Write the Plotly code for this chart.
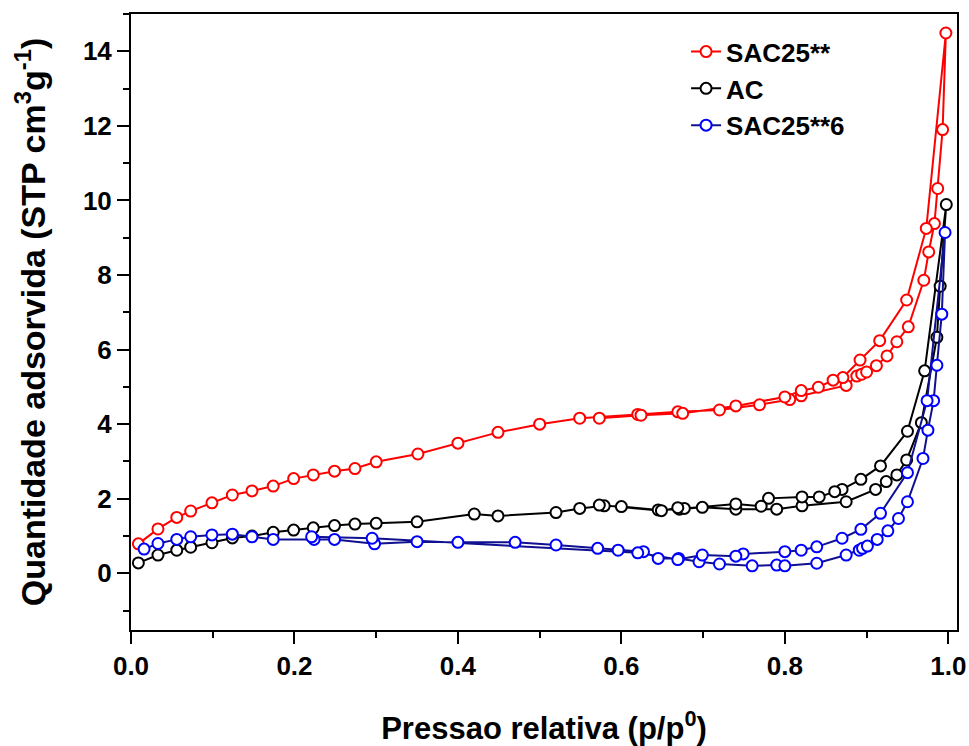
import plotly.graph_objects as go

# ---------------- data (relative pressure p/p0, adsorbed quantity) ----------------
# SAC25** (red)
sac25_ads_x = [0.009, 0.033, 0.056, 0.073, 0.099, 0.124, 0.148, 0.174, 0.199, 0.223, 0.249,
               0.274, 0.300, 0.351, 0.400, 0.449, 0.500, 0.549, 0.620, 0.669, 0.720, 0.769,
               0.806, 0.820, 0.875, 0.888, 0.894, 0.900, 0.912, 0.925, 0.937, 0.951, 0.970,
               0.976, 0.983, 0.987, 0.993, 0.997]
sac25_ads_y = [0.79, 1.19, 1.50, 1.67, 1.89, 2.10, 2.21, 2.34, 2.54, 2.64, 2.74,
               2.81, 2.99, 3.20, 3.49, 3.78, 4.00, 4.16, 4.26, 4.33, 4.38, 4.52,
               4.66, 4.76, 5.04, 5.29, 5.34, 5.40, 5.57, 5.83, 6.21, 6.61, 7.86,
               8.62, 9.38, 10.32, 11.90, 14.49]
sac25_des_x = [0.973, 0.949, 0.916, 0.892, 0.871, 0.859, 0.841, 0.820, 0.800, 0.740, 0.675,
               0.624, 0.573]
sac25_des_y = [9.25, 7.33, 6.24, 5.72, 5.25, 5.18, 4.99, 4.90, 4.73, 4.49, 4.29,
               4.24, 4.16]

# AC (black)
ac_ads_x = [0.009, 0.033, 0.056, 0.073, 0.099, 0.124, 0.148, 0.174, 0.199, 0.223, 0.249,
            0.274, 0.300, 0.350, 0.420, 0.449, 0.520, 0.549, 0.579, 0.600, 0.645, 0.671,
            0.699, 0.740, 0.790, 0.821, 0.875, 0.911, 0.924, 0.937, 0.949, 0.967, 0.986,
            0.990, 0.9975]
ac_ads_y = [0.28, 0.49, 0.62, 0.70, 0.82, 0.95, 1.00, 1.10, 1.16, 1.22, 1.28,
            1.32, 1.34, 1.38, 1.59, 1.54, 1.63, 1.74, 1.81, 1.79, 1.70, 1.72,
            1.77, 1.72, 1.72, 1.81, 1.92, 2.25, 2.46, 2.64, 3.04, 4.04, 6.33,
            7.70, 9.89]
ac_des_x = [0.971, 0.950, 0.917, 0.893, 0.870, 0.861, 0.842, 0.821, 0.780, 0.771, 0.740,
            0.677, 0.669, 0.649, 0.573]
ac_des_y = [5.43, 3.81, 2.88, 2.52, 2.25, 2.19, 2.05, 2.05, 2.01, 1.80, 1.86,
            1.74, 1.76, 1.68, 1.83]

# SAC25**6 (blue)
sac6_ads_x = [0.016, 0.033, 0.056, 0.073, 0.099, 0.124, 0.148, 0.174, 0.224, 0.249, 0.298,
              0.350, 0.400, 0.470, 0.520, 0.571, 0.596, 0.627, 0.645, 0.670, 0.695, 0.720,
              0.760, 0.790, 0.800, 0.839, 0.875, 0.891, 0.895, 0.901, 0.913, 0.926, 0.939,
              0.950, 0.969, 0.975, 0.982, 0.986, 0.992, 0.996]
sac6_ads_y = [0.65, 0.80, 0.91, 0.98, 1.03, 1.05, 0.98, 0.91, 0.91, 0.91, 0.79,
              0.85, 0.83, 0.83, 0.76, 0.67, 0.62, 0.58, 0.40, 0.40, 0.31, 0.25,
              0.20, 0.22, 0.20, 0.27, 0.49, 0.62, 0.67, 0.73, 0.91, 1.14, 1.47,
              1.92, 3.08, 3.84, 4.63, 5.58, 6.95, 9.14]
sac6_des_x = [0.974, 0.950, 0.917, 0.893, 0.870, 0.839, 0.820, 0.800, 0.749, 0.740, 0.699,
              0.669, 0.620, 0.295, 0.221]
sac6_des_y = [4.63, 2.70, 1.61, 1.18, 0.94, 0.71, 0.62, 0.58, 0.52, 0.46, 0.49,
              0.37, 0.55, 0.94, 0.98]

series_names = ["SAC25**", "AC", "SAC25**6"]
line_colors = ["#ff0000", "#000000", "#101090"]
marker_colors = ["#ff0000", "#000000", "#0000ff"]

x_ticks = [0.0, 0.2, 0.4, 0.6, 0.8, 1.0]
x_tick_labels = ["0.0", "0.2", "0.4", "0.6", "0.8", "1.0"]
y_ticks = [0, 2, 4, 6, 8, 10, 12, 14]

FONT = "Liberation Sans, Arial, Helvetica, sans-serif"

fig = go.Figure()
all_series = [
    (sac25_ads_x + sac25_des_x, sac25_ads_y + sac25_des_y),
    (ac_ads_x + ac_des_x, ac_ads_y + ac_des_y),
    (sac6_ads_x + sac6_des_x, sac6_ads_y + sac6_des_y),
]
for i, (xs, ys) in enumerate(all_series):
    fig.add_trace(go.Scatter(
        x=xs, y=ys, mode="lines+markers", name=series_names[i],
        line=dict(color=line_colors[i], width=2),
        marker=dict(symbol="circle", size=11, color="white",
                    line=dict(color=marker_colors[i], width=2)),
    ))

axis_common = dict(
    showline=True, linecolor="black", linewidth=2, mirror=True,
    ticks="outside", ticklen=12, tickwidth=2, tickcolor="black",
    showgrid=False, zeroline=False,
    tickfont=dict(family=FONT, size=26, color="black", weight="bold"),
)

fig.update_xaxes(
    range=[0, 1.0106], tickvals=x_ticks, ticktext=x_tick_labels,
    minor=dict(dtick=0.1, tick0=0, ticks="outside", ticklen=6, tickwidth=2, tickcolor="black"),
    title=dict(text="Pressao relativa (p/p<sup>0</sup>)", standoff=43,
               font=dict(family=FONT, size=31, color="black", weight="bold")),
    **axis_common,
)
fig.update_yaxes(
    range=[-1.52, 15.0], tickvals=y_ticks,
    minor=dict(dtick=1, tick0=1, ticks="outside", ticklen=6, tickwidth=2, tickcolor="black"),
    title=dict(text="Quantidade adsorvida (STP cm<sup>3</sup>g<sup>-1</sup>)", standoff=27,
               font=dict(family=FONT, size=34, color="black", weight="bold")),
    **axis_common,
)

fig.update_layout(
    width=969, height=746,
    margin=dict(l=131, r=12, t=14, b=116, autoexpand=False),
    paper_bgcolor="white", plot_bgcolor="white",
    showlegend=True,
    legend=dict(x=0.672, y=0.977, xanchor="left", yanchor="top",
                bgcolor="rgba(0,0,0,0)", borderwidth=0,
                font=dict(family=FONT, size=26, color="black", weight="bold")),
)

fig.write_html("out.html", config={"displayModeBar": False},
               post_script="document.body.style.margin='0px';")
